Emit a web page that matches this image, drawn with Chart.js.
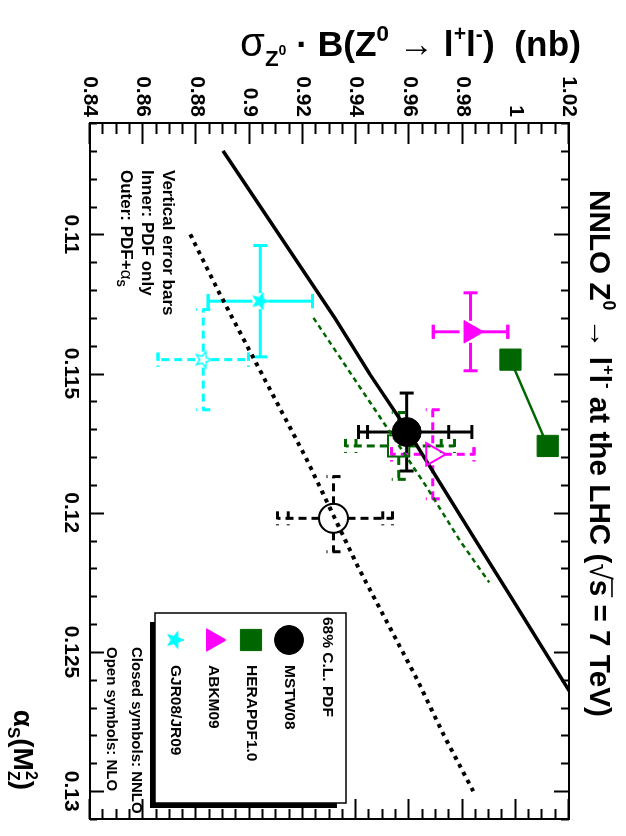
<!DOCTYPE html>
<html>
<head>
<meta charset="utf-8">
<title>Z0 cross section vs alpha_s</title>
<script src="https://cdn.jsdelivr.net/npm/chart.js@4.4.1/dist/chart.umd.min.js"></script>
<style>
html, body { margin: 0; padding: 0; background: #fff; overflow: hidden; }
/* the plot is laid out landscape and turned a quarter turn clockwise */
#plot {
    position: absolute; left: 0; top: 0; width: 836px; height: 626px;
    transform-origin: 0 0; transform: translateX(626px) rotate(90deg);
}
</style>
</head>
<body>
<div id="plot"><canvas id="zChart" width="836" height="626"></canvas></div>
<script>
/* ===============================
   AXES
================================ */
const alphaTicks = [0.11, 0.115, 0.12, 0.125, 0.13];
const sigmaTicks = [0.84, 0.86, 0.88, 0.9, 0.92, 0.94, 0.96, 0.98, 1, 1.02];

/* ===============================
   PDF POINTS (sigma in nb)
================================ */
const pdfSets = ["MSTW08", "HERAPDF1.0", "ABKM09", "GJR08/JR09"];
const pointSet   = ["MSTW08", "MSTW08", "HERAPDF1.0", "HERAPDF1.0", "HERAPDF1.0", "ABKM09", "ABKM09", "GJR08/JR09", "GJR08/JR09"];
const pointOrder = ["NNLO",   "NLO",    "NNLO",       "NNLO",       "NLO",        "NNLO",   "NLO",    "NNLO",       "NLO"];
const pointAlphaS = [0.1171, 0.1202, 0.1145, 0.1176, 0.1176, 0.1135, 0.1179, 0.1124, 0.1145];
const pointSigma  = [0.959, 0.9315, 0.998, 1.012, 0.956, 0.983, 0.9688, 0.904, 0.8826];
// inner bars: PDF only, outer bars: PDF + alpha_s
const pdfErrDown = [0.0147, 0.017, 0, 0, 0.016, 0.014, 0.0155, 0.0196, 0.017];
const pdfErrUp   = [0.0158, 0.0185, 0, 0, 0.016, 0.014, 0.0155, 0.0196, 0.017];
const totErrDown = [0.0181, 0.021, 0, 0, 0.020, 0.014, 0.0155, 0.0196, 0.017];
const totErrUp   = [0.0245, 0.0222, 0, 0, 0.021, 0.014, 0.0155, 0.0196, 0.017];
const alphaErrDown = [0.0014, 0.0015, 0, 0, 0.0012, 0.0014, 0.0016, 0.0020, 0.0018];
const alphaErrUp   = [0.0014, 0.0012, 0, 0, 0.0012, 0.0014, 0.0016, 0.0020, 0.0018];

/* ===============================
   SIGMA vs ALPHA_S CURVES
================================ */
const mstwNnloCurveAlphaS = [0.107, 0.109, 0.111, 0.113, 0.115, 0.117, 0.119, 0.121, 0.123, 0.125, 0.127];
const mstwNnloCurveSigma  = [0.890, 0.904, 0.918, 0.932, 0.945, 0.959, 0.972, 0.985, 0.998, 1.011, 1.024];
const mstwNloCurveAlphaS = [0.110, 0.112, 0.114, 0.116, 0.118, 0.120, 0.122, 0.124, 0.126, 0.128, 0.130];
const mstwNloCurveSigma  = [0.8777, 0.888, 0.899, 0.910, 0.921, 0.931, 0.941, 0.952, 0.963, 0.973, 0.984];
const heraNloCurveAlphaS = [0.113, 0.115, 0.117, 0.119, 0.121, 0.1225];
const heraNloCurveSigma  = [0.924, 0.938, 0.952, 0.966, 0.979, 0.990];

/* ===============================
   STYLE
================================ */
const FONT = "'Liberation Sans', 'DejaVu Sans', Arial, sans-serif";
const bold = s => `bold ${s}px ${FONT}`;
const plain = s => `${s}px ${FONT}`;

function starImage(size, fill, stroke, lw) {
    const c = document.createElement("canvas");
    c.width = c.height = size;
    const g = c.getContext("2d");
    const R = size / 2 - lw, r = R * 0.42;
    g.beginPath();
    for (let i = 0; i < 10; i++) {
        const rad = i % 2 ? r : R;
        const a = -Math.PI / 2 + i * Math.PI / 5;
        g.lineTo(size / 2 + rad * Math.cos(a), size / 2 + rad * Math.sin(a));
    }
    g.closePath();
    if (fill) { g.fillStyle = fill; g.fill(); }
    g.lineWidth = lw;
    g.strokeStyle = stroke;
    g.stroke();
    return c;
}

const starFull = starImage(20, "#00ffff", "#00ffff", 1);
const starOpen = starImage(20, null, "#00ffff", 1.5);

const setStyle = {
    "MSTW08":     { color: "#000000", marker: "circle",   radius: 14.5, gap: 14 },
    "HERAPDF1.0": { color: "#006600", marker: "rect",     radius: 15,   gap: 11 },
    "ABKM09":     { color: "#ff00ff", marker: "triangle", radius: 13,   gap: 11 },
    "GJR08/JR09": { color: "#00ffff", marker: "star",     radius: 10,   gap: 8 }
};

/* ===============================
   DATASETS
================================ */
const zip = (xs, ys) => xs.map((x, i) => ({ x: x, y: ys[i] }));

const markerDatasets = [];
pdfSets.forEach(set => {
    ["NNLO", "NLO"].forEach(order => {
        const idx = pointSet.map((s, i) => i).filter(i => pointSet[i] === set && pointOrder[i] === order);
        if (!idx.length) return;
        const st = setStyle[set];
        const closed = order === "NNLO";
        markerDatasets.push({
            label: set + " " + order,
            data: idx.map(i => ({ x: pointAlphaS[i], y: pointSigma[i] })),
            pointStyle: st.marker === "star" ? (closed ? starFull : starOpen) : st.marker,
            pointRadius: st.radius,
            pointBackgroundColor: closed ? st.color : "rgba(0,0,0,0)",
            pointBorderColor: st.color,
            pointBorderWidth: closed ? 1 : 2,
            showLine: set === "HERAPDF1.0" && closed,
            borderColor: st.color,
            borderWidth: 2.5,
            clip: 0
        });
    });
});

const curveDatasets = [
    {
        label: "MSTW08 NNLO",
        data: zip(mstwNnloCurveAlphaS, mstwNnloCurveSigma),
        showLine: true, pointRadius: 0, borderColor: "#000", borderWidth: 3.5, clip: 0
    },
    {
        label: "MSTW08 NLO",
        data: zip(mstwNloCurveAlphaS, mstwNloCurveSigma),
        showLine: true, pointRadius: 0, borderColor: "#000", borderWidth: 4,
        borderDash: [4, 5], clip: 0
    },
    {
        label: "HERAPDF1.0 NLO",
        data: zip(heraNloCurveAlphaS, heraNloCurveSigma),
        showLine: true, pointRadius: 0, borderColor: "#006600", borderWidth: 2.5,
        borderDash: [5, 4], clip: 0
    }
];

/* ===============================
   TEXT HELPER (sub / superscripts)
   fit: stretch the whole string to that width
================================ */
function drawRich(ctx, x, y, parts, align, fit) {
    let total = 0;
    const ws = parts.map(p => {
        ctx.font = p.font;
        const w = ctx.measureText(p.t).width;
        if (!p.stack) total += w;
        return w;
    });
    const k = fit ? fit / total : 1;
    ctx.save();
    ctx.translate(x, y);
    ctx.scale(k, k);
    let cx = align === "right" ? -total : align === "center" ? -total / 2 : 0;
    parts.forEach((p, i) => {
        ctx.font = p.font;
        ctx.fillText(p.t, cx, p.dy || 0);
        if (p.over) ctx.fillRect(cx - 1, p.over, ws[i] + 2, 1.6);
        if (!p.stack) cx += ws[i];
    });
    ctx.restore();
}

/* ===============================
   ERROR BARS
================================ */
function drawErrorBars(chart) {
    const { ctx, scales: { x, y } } = chart;
    const seg = (x1, y1, x2, y2) => {
        ctx.beginPath(); ctx.moveTo(x1, y1); ctx.lineTo(x2, y2); ctx.stroke();
    };
    const cap = 7;
    pointSet.forEach((set, i) => {
        const st = setStyle[set];
        const px = x.getPixelForValue(pointAlphaS[i]);
        const py = y.getPixelForValue(pointSigma[i]);
        ctx.save();
        ctx.strokeStyle = st.color;
        ctx.lineWidth = 3;
        ctx.setLineDash(pointOrder[i] === "NLO" ? [8, 5] : []);

        if (totErrUp[i] > 0) {
            const s = pointSigma[i];
            const yUp = y.getPixelForValue(s + totErrUp[i]);
            const yDn = y.getPixelForValue(s - totErrDown[i]);
            seg(px, py - st.gap, px, yUp);
            seg(px, py + st.gap, px, yDn);
            [s + pdfErrUp[i], s - pdfErrDown[i], s + totErrUp[i], s - totErrDown[i]].forEach(v => {
                const yy = y.getPixelForValue(v);
                seg(px - cap, yy, px + cap, yy);
            });
        }
        if (alphaErrUp[i] > 0) {
            const a = pointAlphaS[i];
            const xL = x.getPixelForValue(a - alphaErrDown[i]);
            const xR = x.getPixelForValue(a + alphaErrUp[i]);
            seg(px - st.gap, py, xL, py);
            seg(px + st.gap, py, xR, py);
            seg(xL, py - cap, xL, py + cap);
            seg(xR, py - cap, xR, py + cap);
        }
        ctx.restore();
    });
}

/* ===============================
   FRAME, TICKS, TITLES, LEGEND
================================ */
function drawFrame(chart) {
    const { ctx, chartArea: a, scales: { x, y } } = chart;
    ctx.save();
    ctx.strokeStyle = "#000";
    ctx.lineWidth = 2;
    ctx.strokeRect(a.left, a.top, a.right - a.left, a.bottom - a.top);

    ctx.beginPath();
    // alpha_s ticks every 0.001, long ones every 0.005
    for (let k = 106; k <= 131; k++) {
        const px = Math.round(x.getPixelForValue(k / 1000)) + 0.5;
        const major = k % 5 === 0;
        ctx.moveTo(px, a.bottom); ctx.lineTo(px, a.bottom - (major ? 14 : 7));
        ctx.moveTo(px, a.top);    ctx.lineTo(px, a.top + (major ? 15 : 8));
    }
    // sigma ticks every 0.005, long ones every 0.02
    for (let k = 168; k <= 204; k++) {
        const py = Math.round(y.getPixelForValue(k * 0.005)) + 0.5;
        const major = k % 4 === 0;
        ctx.moveTo(a.left, py);  ctx.lineTo(a.left + (major ? 21 : 11), py);
        ctx.moveTo(a.right, py); ctx.lineTo(a.right - (major ? 20 : 10), py);
    }
    ctx.stroke();
    ctx.restore();
}

function drawTexts(chart) {
    const { ctx } = chart;
    ctx.save();
    ctx.fillStyle = "#000";
    ctx.textBaseline = "alphabetic";

    // y title, reading upwards along the sigma axis
    ctx.save();
    ctx.translate(56, 45);
    ctx.rotate(-Math.PI / 2);
    drawRich(ctx, 0, 0, [
        { t: "\u03c3", font: plain(40) },
        { t: "Z", font: bold(22), dy: 10 },
        { t: "0", font: bold(14), dy: -1 },
        { t: " \u00b7 B(Z", font: bold(35) },
        { t: "0", font: bold(22), dy: -15 },
        { t: " \u2192 ", font: plain(35) },
        { t: "l", font: bold(35) },
        { t: "+", font: bold(21), dy: -15 },
        { t: "l", font: bold(35) },
        { t: "-", font: bold(21), dy: -15 },
        { t: ")  (nb)", font: bold(35) }
    ], "right", 341);
    ctx.restore();

    // x title
    drawRich(ctx, 790, 612, [
        { t: "\u03b1", font: bold(28) },
        { t: "S", font: bold(17), dy: 6 },
        { t: "(M", font: bold(28) },
        { t: "2", font: bold(16), dy: -12, stack: true },
        { t: "Z", font: bold(16), dy: 6 },
        { t: ")", font: bold(28) }
    ], "right");

    // plot title
    drawRich(ctx, 190, 36, [
        { t: "NNLO Z", font: bold(30) },
        { t: "0", font: bold(18), dy: -13 },
        { t: " \u2192 ", font: plain(30) },
        { t: "l", font: bold(30) },
        { t: "+", font: bold(17), dy: -13 },
        { t: "l", font: bold(30) },
        { t: "-", font: bold(17), dy: -13 },
        { t: " at the LHC (", font: bold(30) },
        { t: "\u221a", font: plain(30) },
        { t: "s", font: bold(30), over: -23 },
        { t: " = 7 TeV)", font: bold(30) }
    ], "left", 527);

    // error bar note
    drawRich(ctx, 170, 463, [{ t: "Vertical error bars", font: bold(17) }], "left");
    drawRich(ctx, 170, 484, [{ t: "Inner: PDF only", font: bold(17) }], "left");
    drawRich(ctx, 170, 505, [
        { t: "Outer: PDF+", font: bold(17) },
        { t: "\u03b1", font: plain(17) },
        { t: "S", font: bold(11), dy: 4 }
    ], "left");

    // order note under the legend
    drawRich(ctx, 647, 494, [{ t: "Closed symbols: NNLO", font: bold(15) }], "left");
    drawRich(ctx, 647, 519, [{ t: "Open symbols: NLO", font: bold(15) }], "left");

    drawLegend(ctx);
    ctx.restore();
}

function drawLegend(ctx) {
    const L = 613, R = 803, T = 280, B = 471;
    ctx.save();
    ctx.fillStyle = "#000";
    ctx.fillRect(R, T + 9, 5, B - T - 9 + 5);
    ctx.fillRect(L + 9, B, R - L - 9 + 5, 5);
    ctx.fillStyle = "#fff";
    ctx.fillRect(L, T, R - L, B - T);
    ctx.strokeStyle = "#000";
    ctx.lineWidth = 1.5;
    ctx.strokeRect(L, T, R - L, B - T);

    ctx.fillStyle = "#000";
    ctx.textBaseline = "middle";
    ctx.font = bold(15.5);
    ctx.fillText("68% C.L. PDF", L + 4, 299);

    const rows = [337, 375, 413, 451];
    pdfSets.forEach((set, i) => {
        const st = setStyle[set];
        ctx.fillStyle = st.color;
        ctx.strokeStyle = st.color;
        ctx.lineWidth = 1;
        Chart.helpers.drawPoint(ctx, {
            pointStyle: st.marker === "star" ? starFull : st.marker,
            radius: st.radius,
            borderWidth: 1,
            rotation: 0
        }, L + 27, rows[i]);
        ctx.fillStyle = "#000";
        ctx.font = bold(15.5);
        ctx.fillText(set, L + 52, rows[i]);
    });
    ctx.restore();
}

/* ===============================
   CHART
================================ */
const rootStyle = {
    id: "rootStyle",
    beforeDatasetsDraw(chart) { drawErrorBars(chart); },
    afterDraw(chart) { drawFrame(chart); drawTexts(chart); }
};

new Chart(document.getElementById("zChart"), {
    type: "scatter",
    data: { datasets: markerDatasets.concat(curveDatasets) },
    options: {
        responsive: false,
        animation: false,
        devicePixelRatio: 1,
        layout: { padding: { top: 57, right: 4, left: 0, bottom: 0 } },
        plugins: { legend: { display: false }, tooltip: { enabled: false } },
        scales: {
            x: {
                type: "linear", position: "bottom", min: 0.106, max: 0.131,
                grid: { display: false, drawTicks: false },
                border: { display: false },
                afterBuildTicks: s => { s.ticks = alphaTicks.map(v => ({ value: v })); },
                afterFit: s => { s.height = 90; },
                ticks: {
                    autoSkip: false, maxRotation: 0, padding: 7, color: "#000",
                    font: { family: FONT, size: 21, weight: "bold" },
                    callback: v => String(v)
                }
            },
            y: {
                type: "linear", position: "left", min: 0.84, max: 1.02,
                grid: { display: false, drawTicks: false },
                border: { display: false },
                afterBuildTicks: s => { s.ticks = sigmaTicks.map(v => ({ value: v })); },
                afterFit: s => { s.width = 123; },
                ticks: {
                    autoSkip: false, padding: 6, color: "#000",
                    font: { family: FONT, size: 21, weight: "bold" },
                    callback: v => String(v)
                }
            }
        }
    },
    plugins: [rootStyle]
});
</script>
</body>
</html>
